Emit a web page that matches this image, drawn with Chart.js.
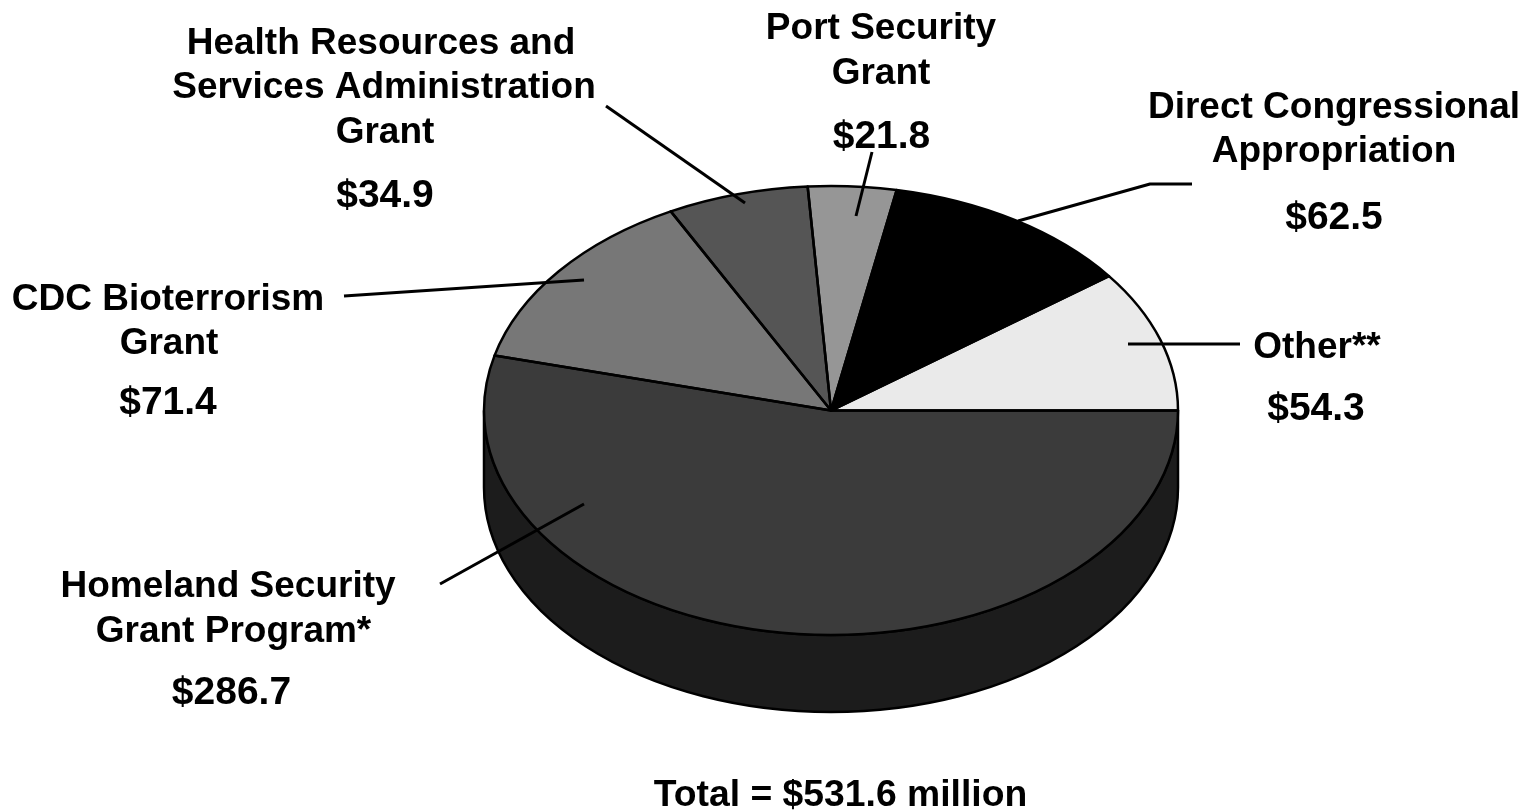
<!DOCTYPE html>
<html>
<head>
<meta charset="utf-8">
<title>Grant funding by source</title>
<style>
  html, body { margin: 0; padding: 0; background: #fff; }
  canvas { display: block; }
</style>
<script src="https://cdn.jsdelivr.net/npm/chart.js@4/dist/chart.umd.js"></script>
</head>
<body>
<canvas id="pie" width="1525" height="811"></canvas>
<script>
// Funding sources, clockwise from the east edge of the pie (millions of dollars)
const sources = [
  "Homeland Security Grant Program*",
  "CDC Bioterrorism Grant",
  "Health Resources and Services Administration Grant",
  "Port Security Grant",
  "Direct Congressional Appropriation",
  "Other**"
];
const amounts = [286.7, 71.4, 34.9, 21.8, 62.5, 54.3];
const faceColors = ["#3b3b3b", "#777777", "#555555", "#969696", "#000000", "#eaeaea"];
const wallColors = ["#1c1c1c", "#3b3b3b", "#2a2a2a", "#4b4b4b", "#000000", "#757575"];
const totalLabel = "Total = $531.6 million";

// Disc geometry on the page
const squash = 0.647;
const centerY = 410.5;
const depth = 77;

// Callout text: wrapped lines with baselines, then the amount line
const callouts = [
  { lines: [["Homeland Security", 228, 597], ["Grant Program*", 233.5, 642]], amount: [231.5, 704] },
  { lines: [["CDC Bioterrorism", 168, 310], ["Grant", 169, 354]], amount: [168, 414] },
  { lines: [["Health Resources and", 381, 54], ["Services Administration", 384, 98], ["Grant", 385, 143]], amount: [385, 207] },
  { lines: [["Port Security", 881, 39], ["Grant", 881, 84]], amount: [881.5, 148] },
  { lines: [["Direct Congressional", 1334, 118], ["Appropriation", 1334, 162]], amount: [1334, 229] },
  { lines: [["Other**", 1317, 358]], amount: [1316, 420] }
];

// Leader lines from each callout into its slice
const leaders = [
  [[440, 584], [584, 504]],
  [[344, 296], [584, 280]],
  [[606, 106], [745, 203]],
  [[872, 152], [856, 216]],
  [[1192, 184], [1150, 184], [1018, 221]],
  [[1240, 344], [1128, 344]]
];

// Flattens the pie into an ellipse and adds the side wall and outlines
const discPlugin = {
  id: "disc",
  beforeDatasetsDraw(chart) {
    const ctx = chart.ctx;
    const arcs = chart.getDatasetMeta(0).data;
    ctx.save();
    ctx.lineWidth = 2.5;
    ctx.strokeStyle = "#000";
    arcs.forEach((arc, i) => {
      const a0 = Math.max(arc.startAngle, 0);
      const a1 = Math.min(arc.endAngle, Math.PI);
      if (a1 <= a0) return;
      const rx = arc.outerRadius, ry = rx * squash;
      ctx.beginPath();
      ctx.ellipse(arc.x, centerY + depth, rx, ry, 0, a0, a1);
      ctx.ellipse(arc.x, centerY, rx, ry, 0, a1, a0, true);
      ctx.closePath();
      ctx.fillStyle = wallColors[i];
      ctx.fill();
      ctx.stroke();
    });
    ctx.restore();

    const cy = arcs[0].y;
    ctx.save();
    ctx.translate(0, centerY);
    ctx.scale(1, squash);
    ctx.translate(0, -cy);
  },
  afterDatasetsDraw(chart) {
    const ctx = chart.ctx;
    ctx.restore();
    const arcs = chart.getDatasetMeta(0).data;

    ctx.save();
    ctx.lineWidth = 2.5;
    ctx.lineJoin = "round";
    ctx.strokeStyle = "#000";
    arcs.forEach(arc => {
      const rx = arc.outerRadius, ry = rx * squash;
      ctx.beginPath();
      ctx.moveTo(arc.x, centerY);
      ctx.ellipse(arc.x, centerY, rx, ry, 0, arc.startAngle, arc.endAngle);
      ctx.closePath();
      ctx.stroke();
    });

    ctx.lineWidth = 3;
    ctx.lineCap = "butt";
    leaders.forEach(path => {
      ctx.beginPath();
      path.forEach(([x, y], k) => k ? ctx.lineTo(x, y) : ctx.moveTo(x, y));
      ctx.stroke();
    });

    ctx.fillStyle = "#000";
    ctx.textAlign = "center";
    ctx.textBaseline = "alphabetic";
    const family = '"Liberation Sans", Arial, sans-serif';
    callouts.forEach((c, i) => {
      ctx.font = "bold 37px " + family;
      c.lines.forEach(([text, x, y]) => ctx.fillText(text, x, y));
      ctx.font = "bold 39px " + family;
      ctx.fillText("$" + amounts[i].toFixed(1), c.amount[0], c.amount[1]);
    });
    ctx.font = "bold 37.3px " + family;
    ctx.fillText(totalLabel, 840.5, 806);
    ctx.restore();
  }
};

new Chart(document.getElementById("pie"), {
  type: "pie",
  data: {
    labels: sources,
    datasets: [{
      data: amounts,
      backgroundColor: faceColors,
      borderWidth: 0,
      clip: false
    }]
  },
  options: {
    responsive: false,
    animation: false,
    rotation: 90,
    layout: { padding: { left: 484, right: 347, top: 58.5, bottom: 58.5 } },
    plugins: { legend: { display: false }, tooltip: { enabled: false } }
  },
  plugins: [discPlugin]
});
</script>
</body>
</html>
